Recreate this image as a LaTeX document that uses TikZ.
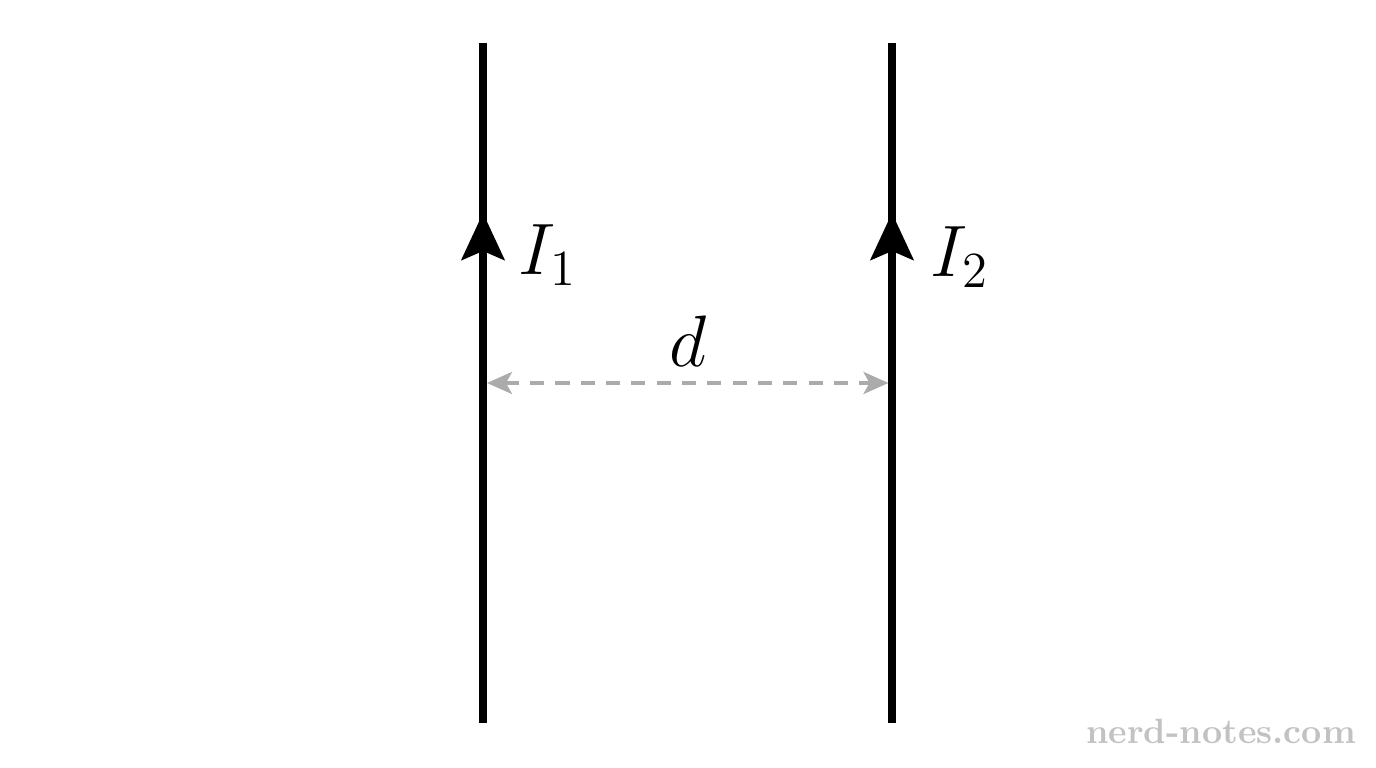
\documentclass[tikz,border=0pt]{standalone}
\usepackage{tikz}
\usetikzlibrary{arrows.meta}

\begin{document}
\begin{tikzpicture}[
    wire/.style={line width=2pt, black},
    current/.style={-{Stealth[length=4.7mm, width=4.3mm, inset=0.9mm]}},
    gap/.style={{Stealth[length=2.5mm, width=2.2mm, inset=0.6mm]}-{Stealth[length=2.5mm, width=2.2mm, inset=0.6mm]},
        line width=1pt, draw=black!33, dash pattern=on 4pt off 3.2pt},
    lbl/.style={font=\fontsize{21}{25}\selectfont},
    watermark/.style={font=\fontsize{10}{12}\selectfont\bfseries, text=black!24}
]
\useasboundingbox (0,0) rectangle (13.76,7.68);

% --- Wire 1 (left) ---
\coordinate (w1b) at (4.83,0.45);
\coordinate (w1a) at (4.83,5.55);
\coordinate (w1t) at (4.83,7.25);
\draw[wire] (w1b) -- (w1t);
\draw[wire, current] (w1b) -- (w1a);
\node[lbl] (i1) at (5.48,5.13) {$I_1$};

% --- Wire 2 (right) ---
\coordinate (w2b) at (8.92,0.45);
\coordinate (w2a) at (8.92,5.55);
\coordinate (w2t) at (8.92,7.25);
\draw[wire] (w2b) -- (w2t);
\draw[wire, current] (w2b) -- (w2a);
\node[lbl] (i2) at (9.60,5.11) {$I_2$};

% --- Separation ---
\coordinate (g1) at (4.87,3.85);
\coordinate (g2) at (8.885,3.85);
\draw[gap] (g1) -- node[lbl, above=0.03cm] (dist) {$d$} (g2);

% watermark
\node[watermark] (site) at (12.21,0.37) {nerd-notes.com};

\end{tikzpicture}
\end{document}
